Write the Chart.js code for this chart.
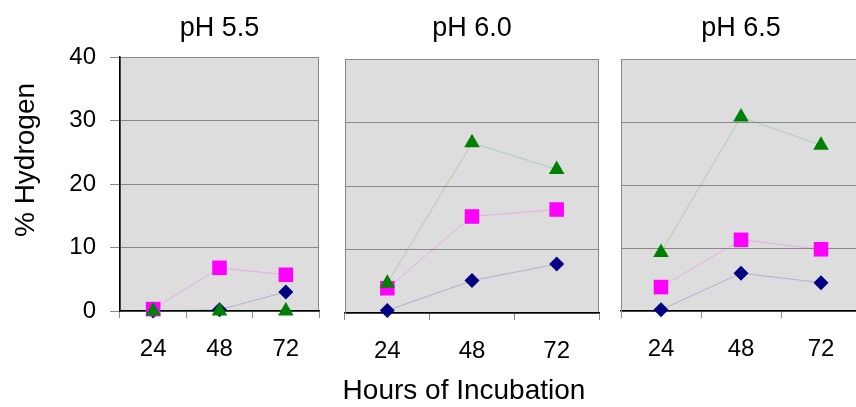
<!DOCTYPE html>
<html>
<head>
<meta charset="utf-8">
<script src="https://cdn.jsdelivr.net/npm/chart.js@4.4.1/dist/chart.umd.min.js"></script>
<style>
  html, body { margin: 0; padding: 0; background: #fff; }
  body { width: 856px; height: 407px; position: relative; overflow: hidden;
    font-family: "Liberation Sans", Arial, sans-serif; color: #000; }
  canvas { position: absolute; top: 0; }
  .lbl { position: absolute; font-size: 28px; line-height: 28px; white-space: nowrap; text-align: center; }
</style>
</head>
<body>
<canvas id="p1" width="332" height="407" style="left:0;width:332px;height:407px"></canvas>
<canvas id="p2" width="278" height="407" style="left:332px;width:278px;height:407px"></canvas>
<canvas id="p3" width="262" height="407" style="left:610px;width:262px;height:407px"></canvas>
<div class="lbl" style="left:314px;top:376px;width:300px">Hours of Incubation</div>
<div class="lbl" style="left:-75px;top:146px;width:200px;transform:rotate(-90deg)">% Hydrogen</div>
<script>
// Data (% hydrogen at 24/48/72 h)
const hours = ['24', '48', '72'];
const yTicks = [0, 10, 20, 30, 40];

const ph55Diamond = [0, 0.2, 3.0];
const ph55Square = [0.3, 6.8, 5.7];
const ph55Triangle = [0, 0, 0];

const ph60Diamond = [0.4, 5.1, 7.7];
const ph60Square = [3.9, 15.2, 16.3];
const ph60Triangle = [4.7, 26.8, 22.6];

const ph65Diamond = [0.2, 6.0, 4.5];
const ph65Square = [3.8, 11.3, 9.8];
const ph65Triangle = [9.3, 30.8, 26.3];

const FONT = '"Liberation Sans", Arial, sans-serif';

// gray plot area with a gray frame (drawn before grid/data)
const plotBg = {
  id: 'plotBg',
  beforeDraw(chart) {
    const { ctx, chartArea: a } = chart;
    ctx.save();
    ctx.fillStyle = '#dddddd';
    ctx.fillRect(a.left, a.top, a.right - a.left, a.bottom - a.top);
    ctx.strokeStyle = '#888888';
    ctx.lineWidth = 1;
    ctx.strokeRect(a.left + 0.5, a.top + 0.5, a.right - a.left - 1, a.bottom - a.top);
    ctx.restore();
  }
};

function sets(dia, sq, tri) {
  return [
    { label: 'diamond', data: dia, order: 3, pointStyle: 'rectRot', pointRadius: 7.5,
      backgroundColor: '#000080', borderColor: 'rgba(0,0,128,0.2)', pointBorderColor: '#000080',
      borderWidth: 1, pointBorderWidth: 0, clip: false },
    { label: 'square', data: sq, order: 2, pointStyle: 'rect', pointRadius: 10.3,
      backgroundColor: '#ff00ff', borderColor: 'rgba(255,0,255,0.22)', pointBorderColor: '#ff00ff',
      borderWidth: 1, pointBorderWidth: 0, clip: false },
    { label: 'triangle', data: tri, order: 1, pointStyle: 'triangle', pointRadius: 9,
      backgroundColor: '#008000', borderColor: 'rgba(0,128,0,0.2)', pointBorderColor: '#008000',
      borderWidth: 1, pointBorderWidth: 0, clip: false }
  ];
}

function panel(id, title, datasets, o) {
  return new Chart(document.getElementById(id), {
    type: 'line',
    data: { labels: hours, datasets },
    plugins: [plotBg],
    options: {
      responsive: false,
      animation: false,
      events: [],
      layout: { padding: { top: 0, left: 0, right: o.padRight, bottom: 0 } },
      plugins: {
        legend: { display: false },
        tooltip: { enabled: false },
        title: {
          display: true, text: title, color: '#000', fullSize: false,
          font: { family: FONT, size: 27, weight: 'normal', lineHeight: 1 },
          padding: { top: 15, bottom: o.titleBottom }
        }
      },
      elements: { line: { tension: 0 } },
      scales: {
        x: {
          type: 'category', offset: true,
          afterFit(s) { s.height = o.xHeight; },
          grid: { offset: true, drawOnChartArea: false, drawTicks: true, tickLength: 7, color: '#888888' },
          border: { display: true, color: '#000', width: 1.5 },
          ticks: { color: '#000', padding: 17, maxRotation: 0, font: { family: FONT, size: 24 } }
        },
        y: {
          min: 0, max: 40,
          afterFit(s) { s.width = o.yWidth; },
          afterBuildTicks(s) { s.ticks = yTicks.map(v => ({ value: v })); },
          grid: { color: '#888888', lineWidth: 1, drawTicks: o.yLabels, tickLength: 10 },
          border: { display: true, color: o.yLabels ? '#000' : '#888888', width: o.yLabels ? 1.5 : 1 },
          ticks: { display: o.yLabels, color: '#000', padding: 14, font: { family: FONT, size: 24 } }
        }
      }
    }
  });
}

panel('p1', 'pH 5.5', sets(ph55Diamond, ph55Square, ph55Triangle),
  { padRight: 13, titleBottom: 15, xHeight: 96, yWidth: 120, yLabels: true });
panel('p2', 'pH 6.0', sets(ph60Diamond, ph60Square, ph60Triangle),
  { padRight: 11, titleBottom: 17, xHeight: 94, yWidth: 13, yLabels: false });
panel('p3', 'pH 6.5', sets(ph65Diamond, ph65Square, ph65Triangle),
  { padRight: 11, titleBottom: 17, xHeight: 96, yWidth: 11, yLabels: false });
</script>
</body>
</html>
